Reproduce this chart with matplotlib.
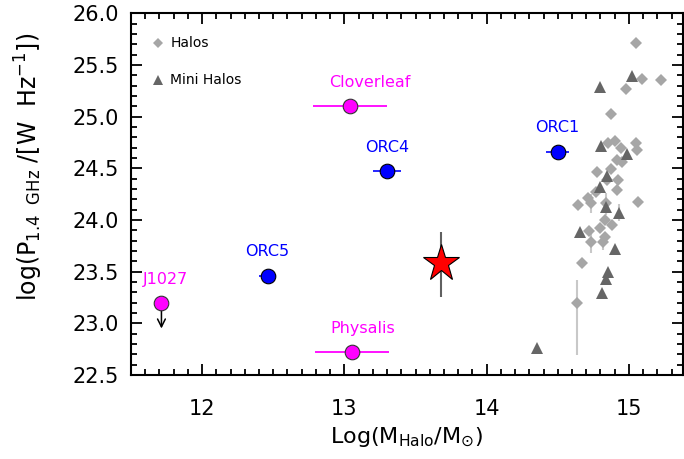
import numpy as np
import matplotlib
matplotlib.use("Agg")
import matplotlib.pyplot as plt
from matplotlib.ticker import MultipleLocator

# Radio halos (grey diamonds)
halo_mass = [15.052, 15.093, 15.223, 14.982, 14.871, 14.850, 14.904, 14.942,
             15.047, 15.058, 14.918, 14.954, 14.778, 14.876, 14.848, 14.920,
             14.913, 14.766, 14.710, 14.641, 14.733, 14.836, 15.061, 14.829,
             14.883, 14.797, 14.717, 14.829, 14.736, 14.820, 14.667, 14.637]
halo_power = [25.710, 25.361, 25.354, 25.264, 25.022, 24.744, 24.762, 24.697,
              24.742, 24.677, 24.580, 24.563, 24.469, 24.490, 24.386, 24.386,
              24.289, 24.270, 24.217, 24.144, 24.161, 24.161, 24.173, 24.002,
              23.955, 23.922, 23.897, 23.834, 23.789, 23.789, 23.583, 23.196]
# the few halos with visible error bars
halo_err_mass = [14.637, 14.733, 14.836, 14.736, 14.820]
halo_err_power = [23.196, 24.161, 24.161, 23.789, 23.789]
halo_err_lo = [0.50, 0.09, 0.10, 0.11, 0.08]
halo_err_hi = [0.22, 0.09, 0.10, 0.11, 0.08]

# Mini halos (dark grey triangles)
mini_mass = [15.024, 14.794, 14.801, 14.984, 14.847, 14.797, 14.840, 14.928,
             14.657, 14.902, 14.850, 14.836, 14.808, 14.356]
mini_power = [25.393, 25.287, 24.720, 24.636, 24.425, 24.321, 24.125, 24.072,
              23.883, 23.720, 23.499, 23.428, 23.289, 22.757]
mini_err_mass = [14.928, 14.840]
mini_err_power = [24.072, 24.125]
mini_err = [0.08, 0.08]

# ORCs and friends
orc_names = ["ORC1", "ORC4", "ORC5"]
orc_mass = [14.50, 13.30, 12.46]
orc_power = [24.66, 24.47, 23.46]
orc_xerr = [0.08, 0.10, 0.06]

mag_names = ["Cloverleaf", "Physalis"]
mag_mass = [13.04, 13.05]
mag_power = [25.10, 22.72]
mag_xerr = [0.26, 0.26]

j1027_mass = 11.714
j1027_power = 23.20
j1027_limit = 22.95

star_mass = 13.676
star_power = 23.58
star_yerr = [[0.33], [0.30]]

# label offsets in points (layout only)
orc_offsets = [(-0.7, 17.5), (0, 17), (0, 17.5)]
mag_offsets = [(14.4, 17.3), (8, 17)]

plt.rcParams['font.family'] = ['DejaVu Sans']
plt.rcParams['mathtext.fontset'] = 'dejavusans'

fig = plt.figure(figsize=(6.84, 4.59), dpi=100)
ax = fig.add_axes([131/684, 84/459, 552/684, 361.7/459])

# halos
ax.errorbar(halo_err_mass, halo_err_power, yerr=[halo_err_lo, halo_err_hi],
            fmt='none', ecolor='#c8c8c8', elinewidth=1.5, zorder=1)
ax.plot(halo_mass, halo_power, 'D', color='#a6a6a6', ms=6.5, mew=0, zorder=2)
ax.errorbar(mini_err_mass, mini_err_power, yerr=mini_err, fmt='none',
            ecolor='#c8c8c8', elinewidth=1.5, zorder=1)
ax.plot(mini_mass, mini_power, '^', color='#666666', ms=8.5, mew=0, zorder=3)

# ORCs
ax.errorbar(orc_mass, orc_power, xerr=orc_xerr, fmt='o', color='#0000ff',
            mfc='#0000ff', mec='black', mew=0.8, ms=10.5, elinewidth=1.2,
            capsize=0, zorder=4)
for name, x, y, off in zip(orc_names, orc_mass, orc_power, orc_offsets):
    ax.annotate(name, (x, y), xytext=off, textcoords='offset points',
                ha='center', va='center', color='#0000ff', fontsize=11.5)

# magenta sources
ax.errorbar(mag_mass, mag_power, xerr=mag_xerr, fmt='o', color='#ff00ff',
            mfc='#ff00ff', mec='#333333', mew=0.8, ms=10.5, elinewidth=1.3,
            capsize=0, zorder=4)
for name, x, y, off in zip(mag_names, mag_mass, mag_power, mag_offsets):
    ax.annotate(name, (x, y), xytext=off, textcoords='offset points',
                ha='center', va='center', color='#ff00ff', fontsize=11.5)

# J1027 upper limit
ax.annotate('', xy=(j1027_mass, j1027_limit), xytext=(j1027_mass, j1027_power),
            arrowprops=dict(arrowstyle='->', color='black', lw=1.1,
                            mutation_scale=14, shrinkA=0, shrinkB=0), zorder=3)
ax.plot([j1027_mass], [j1027_power], 'o', mfc='#ff00ff', mec='#333333',
        mew=0.8, ms=10.5, zorder=5)
ax.annotate('J1027', (j1027_mass, j1027_power), xytext=(3, 16.5),
            textcoords='offset points', ha='center', va='center',
            color='#ff00ff', fontsize=11.5)

# this work
ax.errorbar([star_mass], [star_power], yerr=star_yerr, fmt='none',
            ecolor='#606060', elinewidth=1.5, zorder=5)
ax.plot([star_mass], [star_power], '*', mfc='#ff0000', mec='black', mew=0.8,
        ms=28, zorder=6)

# legend drawn by hand, IDL style
ax.plot([0.049], [0.918], 'D', color='#a6a6a6', ms=5.2, mew=0, transform=ax.transAxes)
ax.text(0.071, 0.918, 'Halos', transform=ax.transAxes, va='center', fontsize=10)
ax.plot([0.049], [0.816], '^', color='#666666', ms=7.5, mew=0, transform=ax.transAxes)
ax.text(0.071, 0.816, 'Mini Halos', transform=ax.transAxes, va='center', fontsize=10)

ax.set_xlim(11.5, 15.38)
ax.set_ylim(22.5, 26.0)
ax.xaxis.set_major_locator(MultipleLocator(1))
ax.xaxis.set_minor_locator(MultipleLocator(0.1))
ax.yaxis.set_major_locator(MultipleLocator(0.5))
ax.yaxis.set_minor_locator(MultipleLocator(0.1))
ax.yaxis.set_major_formatter(plt.FormatStrFormatter('%.1f'))
ax.tick_params(which='both', direction='in', top=True, right=True, width=1.3)
ax.tick_params(which='major', length=8, labelsize=15)
ax.tick_params(which='minor', length=4)
ax.tick_params(axis='x', pad=17)
ax.tick_params(axis='y', pad=9)
for sp in ax.spines.values():
    sp.set_linewidth(1.5)

ax.set_xlabel(r'Log(M$_{\rm Halo}$/M$_{\odot}$)', fontsize=16, labelpad=5)
ax.set_ylabel(r'log(P$_{\rm 1.4\ \ GHz}$ /[W  Hz$^{-1}$])', fontsize=17)
ax.yaxis.set_label_coords(-0.156, 0.575)

fig.savefig('out.png', dpi=100)
